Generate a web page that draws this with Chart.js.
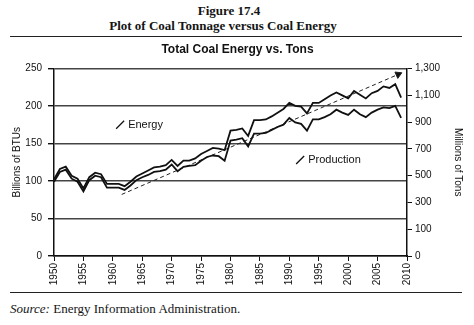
<!DOCTYPE html>
<html>
<head>
<meta charset="utf-8">
<title>Coal Tonnage versus Coal Energy</title>
<script src="https://cdn.jsdelivr.net/npm/chart.js@4.4.1/dist/chart.umd.min.js"></script>
<style>
  html, body { margin: 0; padding: 0; background: #fff; }
  body { width: 474px; height: 325px; position: relative; overflow: hidden; color: #151515; }
  .fig { position: absolute; width: 474px; text-align: center;
         font-family: "Liberation Serif", "DejaVu Serif", serif; font-weight: bold; }
  #figNum { left: -8px; top: 3px; font-size: 13px; }
  #figTitle { left: -14px; top: 18px; font-size: 13px; }
  .rule { position: absolute; left: 10px; width: 452px; height: 1px; background: #222; }
  #ruleTop { top: 36px; }
  #ruleBottom { top: 292px; }
  #source { position: absolute; left: 10px; top: 301px; font-size: 13px;
            font-family: "Liberation Serif", "DejaVu Serif", serif; }
  #wrap { position: absolute; left: 0; top: 38px; width: 474px; height: 252px; }
</style>
</head>
<body>
<div class="fig" id="figNum">Figure 17.4</div>
<div class="fig" id="figTitle">Plot of Coal Tonnage versus Coal Energy</div>
<div class="rule" id="ruleTop"></div>
<div id="wrap"><canvas id="coalChart"></canvas></div>
<div class="rule" id="ruleBottom"></div>
<div id="source"><i>Source:</i> Energy Information Administration.</div>

<script>
// Annual series, 1950-2009
const years = [];
for (let y = 1950; y <= 2009; y++) years.push(y);

// Total coal energy, billions of BTUs (left axis)
const energy = [
  102, 116, 119, 107, 103, 90, 105, 111, 109, 96,
  96, 96, 93, 99, 106, 110, 114, 118, 119, 121,
  128, 120, 127, 127, 130, 136, 140, 144, 143, 141,
  167, 168, 170, 160, 181, 181, 182, 186, 191, 196,
  204, 200, 199, 190, 204, 204, 209, 214, 218, 214,
  210, 220, 215, 210, 217, 220, 226, 224, 229, 211
];

// Coal production, millions of tons (right axis)
const production = [
  454, 527, 544, 477, 454, 382, 466, 499, 488, 410,
  410, 410, 393, 426, 466, 488, 505, 527, 533, 544,
  583, 533, 566, 572, 578, 611, 639, 650, 645, 611,
  762, 768, 779, 718, 813, 813, 818, 841, 863, 880,
  930, 897, 886, 835, 919, 919, 936, 958, 992, 970,
  953, 992, 958, 936, 970, 992, 1009, 1003, 1020, 930
];

// Trend arrow, in left-axis units
const trendYears = [1961.5, 2008.5];
const trendValues = [82, 242];

const leftTicks = [0, 50, 100, 150, 200, 250];
const rightTickLabels = ['0', '100', '300', '500', '700', '900', '1,100', '1,300'];

const sans = '"Liberation Sans", Arial, sans-serif';

// Slash pointers with their captions, placed in data units
const callouts = [
  { text: 'Energy', x: 1962.6, y: 175 },
  { text: 'Production', x: 1993.2, y: 128 }
];

const calloutPlugin = {
  id: 'callouts',
  afterDatasetsDraw(chart) {
    const { ctx, scales } = chart;
    ctx.save();
    ctx.strokeStyle = '#111';
    ctx.lineWidth = 1.3;
    ctx.fillStyle = '#111';
    ctx.font = '11px ' + sans;
    ctx.textBaseline = 'middle';
    callouts.forEach(c => {
      const px = scales.x.getPixelForValue(c.x);
      const py = scales.y.getPixelForValue(c.y);
      ctx.beginPath();
      ctx.moveTo(px - 12, py + 4);
      ctx.lineTo(px - 4, py - 4);
      ctx.stroke();
      ctx.fillText(c.text, px, py);
    });
    ctx.restore();
  }
};

const pts = (xs, ys) => xs.map((x, i) => ({ x: x, y: ys[i] }));

new Chart(document.getElementById('coalChart'), {
  type: 'line',
  data: {
    datasets: [
      {
        label: 'Energy',
        data: pts(years, energy),
        yAxisID: 'y',
        borderColor: '#111',
        borderWidth: 1.8,
        pointRadius: 0,
        tension: 0
      },
      {
        label: 'Production',
        data: pts(years, production),
        yAxisID: 'y2',
        borderColor: '#111',
        borderWidth: 1.8,
        pointRadius: 0,
        tension: 0
      },
      {
        label: 'Trend',
        data: pts(trendYears, trendValues),
        yAxisID: 'y',
        borderColor: '#222',
        backgroundColor: '#111',
        borderWidth: 1,
        borderDash: [4, 3],
        pointRadius: [0, 4],
        pointStyle: 'triangle',
        pointRotation: 66,
        tension: 0
      }
    ]
  },
  options: {
    responsive: true,
    maintainAspectRatio: false,
    animation: false,
    layout: { padding: { left: 11, right: 10, top: 0, bottom: 0 } },
    plugins: {
      legend: { display: false },
      tooltip: { enabled: false },
      title: {
        display: true,
        text: 'Total Coal Energy vs. Tons',
        color: '#111',
        font: { family: sans, size: 12, weight: 'bold' },
        padding: { top: 4, bottom: 12 }
      }
    },
    scales: {
      x: {
        type: 'linear',
        min: 1950,
        max: 2010,
        afterFit: s => { s.height = 34; },
        afterBuildTicks: s => {
          s.ticks = [];
          for (let v = 1950; v <= 2010; v += 5) s.ticks.push({ value: v });
        },
        ticks: {
          minRotation: 90,
          maxRotation: 90,
          color: '#111',
          padding: 2,
          font: { family: sans, size: 10 },
          callback: v => String(v)
        },
        grid: { display: true, drawOnChartArea: false, tickLength: 5, color: '#111' },
        border: { display: true, color: '#111', width: 1.5 }
      },
      y: {
        position: 'left',
        min: 0,
        max: 250,
        afterFit: s => { s.width = 43; },
        afterBuildTicks: s => { s.ticks = leftTicks.map(v => ({ value: v })); },
        ticks: { color: '#111', padding: 6, font: { family: sans, size: 10 } },
        title: {
          display: true,
          text: 'Billions of BTUs',
          color: '#111',
          font: { family: sans, size: 10 },
          padding: 0
        },
        grid: { color: '#444', lineWidth: 1.4, tickLength: 6, tickColor: '#111' },
        border: { display: true, color: '#111', width: 1.5 }
      },
      y2: {
        position: 'right',
        min: -100,
        max: 1300,
        afterFit: s => { s.width = 57; },
        afterBuildTicks: s => {
          s.ticks = rightTickLabels.map((t, i) => ({ value: -100 + i * 200 }));
        },
        ticks: {
          color: '#111',
          padding: 3,
          font: { family: sans, size: 10 },
          callback: (v, i) => rightTickLabels[i]
        },
        title: {
          display: true,
          text: 'Millions of Tons',
          color: '#111',
          font: { family: sans, size: 10 },
          padding: 0
        },
        grid: { drawOnChartArea: false, tickLength: 5, color: '#111' },
        border: { display: true, color: '#111', width: 1.5 }
      }
    }
  },
  plugins: [calloutPlugin]
});
</script>
</body>
</html>
